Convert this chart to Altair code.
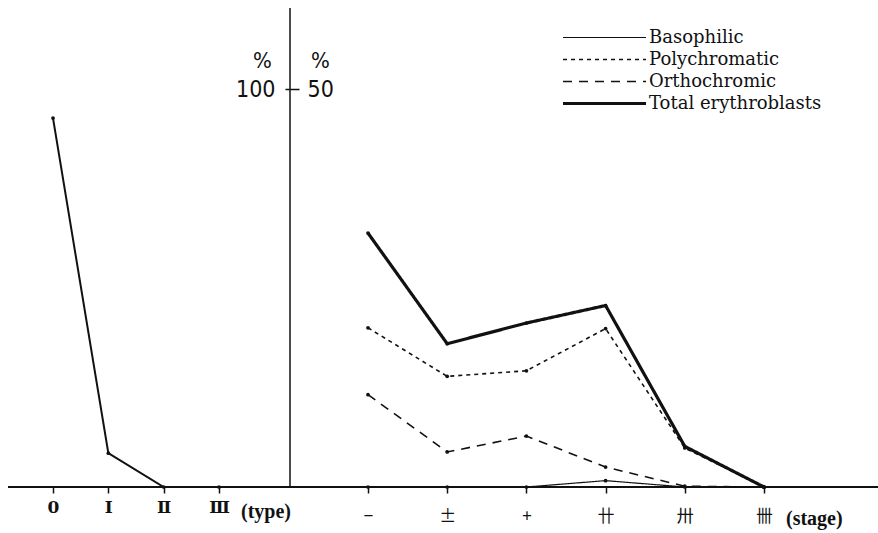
import altair as alt
import pandas as pd

INK = "#111111"
NUM_FONT = "Liberation Sans Narrow, DejaVu Sans Condensed, Liberation Sans, sans-serif"

# Left panel: percentage by type
types = ["0", "Ⅰ", "Ⅱ", "Ⅲ"]
type_pct = [92.7, 8.5, 0.0, 0.0]

# Right panel: erythroblast percentages by stage
stages = ["−", "±", "+", "卄", "卅", "卌"]
series = ["Basophilic", "Polychromatic", "Orthochromic", "Total erythroblasts"]
basophilic = [0.0, 0.0, 0.0, 0.8, 0.0, 0.0]
polychromatic = [20.0, 13.9, 14.6, 19.9, 4.9, 0.0]
orthochromic = [11.6, 4.4, 6.4, 2.5, 0.1, 0.0]
total = [31.9, 18.0, 20.6, 22.8, 5.1, 0.0]

dashes = [[1, 0], [4, 4], [9, 7], [1, 0]]
widths = [1.2, 1.6, 1.6, 3.2]

left_df = pd.DataFrame({"type": types, "pct": type_pct, "idx": range(len(types))})

rows = []
for name, vals in zip(series, [basophilic, polychromatic, orthochromic, total]):
    for i, (s, v) in enumerate(zip(stages, vals)):
        rows.append({"stage": s, "series": name, "pct": v, "idx": i})
right_df = pd.DataFrame(rows)

# Frame: baseline and the central vertical axis
baseline = alt.Chart(pd.DataFrame({"k": [0]})).mark_rule(stroke=INK, strokeWidth=2).encode(
    x=alt.value(8), x2=alt.value(878), y=alt.value(487)
)
vaxis = alt.Chart(pd.DataFrame({"k": [0]})).mark_rule(stroke=INK, strokeWidth=1.5).encode(
    x=alt.value(290), y=alt.value(8), y2=alt.value(487)
)

x_left = alt.X(
    "type:N",
    scale=alt.Scale(type="point", domain=types, range=[53, 219], padding=0),
    axis=alt.Axis(
        orient="bottom", title=None, domain=False, grid=False,
        ticks=True, tickSize=6, tickWidth=1.5, tickColor=INK,
        labelAngle=0, labelFont="DejaVu Serif", labelFontSize=17,
        labelFontWeight="bold", labelColor=INK, labelPadding=6,
    ),
)
y_left = alt.Y(
    "pct:Q",
    scale=alt.Scale(domain=[0, 100], range=[487, 89]),
    axis=alt.Axis(
        orient="left", offset=-290, values=[100], domain=False, grid=False,
        tickSize=5, tickWidth=1.5, tickColor=INK,
        labelFont=NUM_FONT, labelFontSize=23, labelColor=INK, labelPadding=10,
        title="%", titleAngle=0, titleX=-28, titleY=60, titleAlign="center",
        titleBaseline="middle", titleFont=NUM_FONT,
        titleFontSize=22, titleFontWeight="normal", titleColor=INK,
    ),
)

left_line = alt.Chart(left_df).mark_line(stroke=INK, strokeWidth=2).encode(
    x=x_left, y=y_left, order="idx:Q"
)
left_pts = alt.Chart(left_df).mark_point(filled=True, color=INK, size=14, opacity=1).encode(
    x=x_left, y=y_left
)
type_note = alt.Chart(left_df[left_df["type"] == "Ⅲ"]).mark_text(
    text="(type)", align="left", baseline="middle", dx=22, dy=25,
    font="Liberation Serif", fontSize=20, fontWeight="bold", color=INK,
).encode(x=x_left, y=y_left)

left = alt.layer(left_line, left_pts, type_note)

x_right = alt.X(
    "stage:N",
    scale=alt.Scale(type="point", domain=stages, range=[368, 764], padding=0),
    axis=alt.Axis(
        orient="bottom", title=None, domain=False, grid=False,
        ticks=True, tickSize=6, tickWidth=1.5, tickColor=INK,
        labelAngle=0, labelFont="Noto Sans CJK JP", labelFontSize=17,
        labelFontWeight="normal", labelColor=INK, labelPadding=15,
    ),
)
y_right = alt.Y(
    "pct:Q",
    scale=alt.Scale(domain=[0, 50], range=[487, 89]),
    axis=alt.Axis(
        orient="right", offset=-588, values=[50], domain=False, grid=False,
        tickSize=9, tickWidth=1.5, tickColor=INK,
        labelFont=NUM_FONT, labelFontSize=23, labelColor=INK, labelPadding=8,
        title="%", titleAngle=0, titleX=30, titleY=60, titleAlign="center",
        titleBaseline="middle", titleFont=NUM_FONT,
        titleFontSize=22, titleFontWeight="normal", titleColor=INK,
    ),
)

legend = alt.Legend(
    orient="none", legendX=561, legendY=28, title=None,
    symbolType="stroke", symbolSize=6889, symbolStrokeColor=INK,
    labelFont="DejaVu Serif", labelFontSize=18, labelColor=INK,
    labelOffset=1, labelLimit=400, rowPadding=3, clipHeight=19,
)

right_lines = alt.Chart(right_df).mark_line(stroke=INK).encode(
    x=x_right,
    y=y_right,
    order="idx:Q",
    strokeDash=alt.StrokeDash(
        "series:N", sort=series,
        scale=alt.Scale(type="ordinal", domain=series, range=dashes), legend=legend,
    ),
    strokeWidth=alt.StrokeWidth(
        "series:N", sort=series,
        scale=alt.Scale(type="ordinal", domain=series, range=widths), legend=legend,
    ),
)
right_pts = alt.Chart(right_df).mark_point(filled=True, color=INK, size=14, opacity=1).encode(
    x=x_right, y=y_right
)
stage_note = alt.Chart(right_df[(right_df["stage"] == "卌") & (right_df["series"] == "Total erythroblasts")]).mark_text(
    text="(stage)", align="left", baseline="middle", dx=22, dy=32,
    font="Liberation Serif", fontSize=20, fontWeight="bold", color=INK,
).encode(x=x_right, y=y_right)

right = alt.layer(right_lines, right_pts, stage_note)

chart = (
    alt.layer(baseline, vaxis, left, right)
    .resolve_scale(x="independent", y="independent")
    .properties(
        width=878, height=487,
        padding={"left": 0, "top": 0, "right": 0, "bottom": 46},
        autosize=alt.AutoSizeParams(type="none"),
        background="white",
    )
    .configure_view(stroke=None)
)

chart.save("out.html", embed_options={"renderer": "svg", "actions": False})
